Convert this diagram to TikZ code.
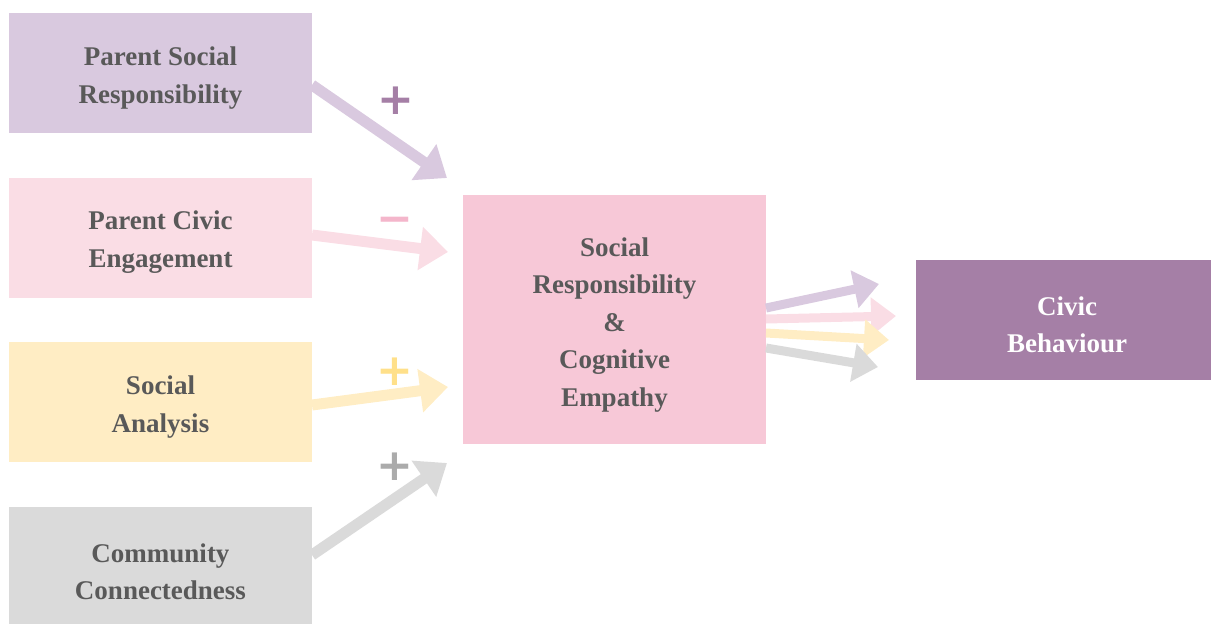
\documentclass[tikz,border=0pt]{standalone}
\usepackage{fontspec}
\setmainfont{Liberation Serif}
\newfontfamily\signfont{DejaVu Sans}
\usetikzlibrary{arrows.meta}
\definecolor{cPurple}{HTML}{D9C9DF}
\definecolor{cPink}{HTML}{FADDE5}
\definecolor{cYellow}{HTML}{FFEDC4}
\definecolor{cGray}{HTML}{DADADA}
\definecolor{cCenter}{HTML}{F7C8D7}
\definecolor{cDark}{HTML}{A57FA6}
\definecolor{cText}{HTML}{595959}
\definecolor{sPurple}{HTML}{A57FA6}
\definecolor{sPink}{HTML}{F4B6CB}
\definecolor{sYellow}{HTML}{FFE08A}
\definecolor{sGray}{HTML}{ABABAB}
\tikzset{
  box/.style={rectangle, inner sep=0pt, minimum width=303pt, minimum height=120pt,
    align=center, text=cText, font=\fontsize{27}{38}\selectfont\bfseries},
  lbl/.style={inner sep=0pt, align=center, text=cText, font=\fontsize{27}{37.5}\selectfont\bfseries},
  conn/.style={line width=11pt, -{Triangle[length=28pt,width=42pt]}},
  rconn/.style={line width=9pt, -{Triangle[length=25pt,width=37pt]}},
  sign/.style={font=\fontsize{44}{44}\selectfont\bfseries\signfont, inner sep=0pt}
}
\begin{document}
\begin{tikzpicture}[x=1pt,y=-1pt]
\useasboundingbox (0,0) rectangle (1211,624);
\node[box, fill=cPurple] (b1) at (160.5,73) {};
\node[box, fill=cPink] (b2) at (160.5,238) {};
\node[box, fill=cYellow] (b3) at (160.5,402) {};
\node[box, fill=cGray, minimum height=118pt] (b4) at (160.5,566) {};
\node[box, fill=cCenter, minimum height=249pt] (c) at (614.5,319.5) {};
\node[box, fill=cDark, minimum width=295pt] (r) at (1063.5,320) {};

\node[lbl] (l1) at (160.5,78) {Parent Social\\Responsibility};
\node[lbl] (l2) at (160.5,242) {Parent Civic\\Engagement};
\node[lbl] (l3) at (160.5,407) {Social\\Analysis};
\node[lbl] (l4) at (160.5,572) {Community\\Connectedness};
\node[lbl] (lc) at (614.5,325) {Social\\Responsibility\\\&\\Cognitive\\Empathy};
\node[lbl, text=white] (lr) at (1067,325) {Civic\\Behaviour};

\coordinate (s1) at (312,85);
\coordinate (t1) at (447,178);
\coordinate (s2) at (312,235);
\coordinate (t2) at (448,252);
\coordinate (s3) at (312,405);
\coordinate (t3) at (448,387);
\coordinate (s4) at (312,555);
\coordinate (t4) at (447,463);
\draw[conn, cPurple] (s1) -- (t1);
\draw[conn, cPink] (s2) -- (t2);
\draw[conn, cYellow] (s3) -- (t3);
\draw[conn, cGray] (s4) -- (t4);

\coordinate (q1) at (766,308);
\coordinate (u1) at (879,284);
\coordinate (q2) at (766,319);
\coordinate (u2) at (896,316);
\coordinate (q3) at (766,333);
\coordinate (u3) at (889,340);
\coordinate (q4) at (766,348);
\coordinate (u4) at (878,367);
\draw[rconn, cPurple] (q1) -- (u1);
\draw[rconn, cPink] (q2) -- (u2);
\draw[rconn, cYellow] (q3) -- (u3);
\draw[rconn, cGray] (q4) -- (u4);

\node[sign, text=sPurple] (p1) at (396,101) {+};
\node[sign, text=sPink] (p2) at (395,225) {\char"2212};
\node[sign, text=sYellow] (p3) at (395,372) {+};
\node[sign, text=sGray] (p4) at (395,467) {+};
\end{tikzpicture}
\end{document}
